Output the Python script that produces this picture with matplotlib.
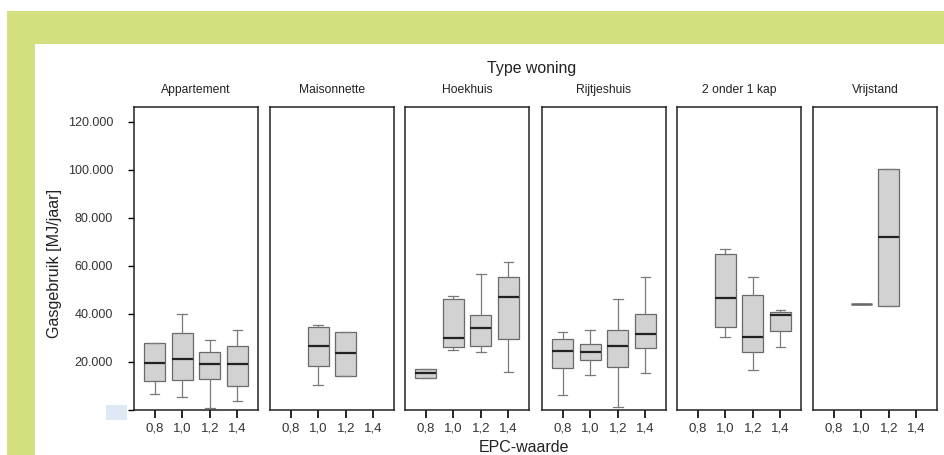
import matplotlib
matplotlib.use("Agg")
import matplotlib.pyplot as plt
from matplotlib.patches import Rectangle

plt.rcParams['font.family'] = ['Liberation Sans', 'DejaVu Sans']

# Box plot statistics per housing type, for EPC 0.8 / 1.0 / 1.2 / 1.4 (None = no data)
epc = [0.8, 1.0, 1.2, 1.4]
epc_labels = ["0,8", "1,0", "1,2", "1,4"]
types = ["Appartement", "Maisonnette", "Hoekhuis", "Rijtjeshuis", "2 onder 1 kap", "Vrijstand"]

# (whislo, q1, med, q3, whishi)
appartement = [(6700, 12100, 19450, 27800, 27800),
               (5600, 12500, 21400, 31950, 40000),
               (1000, 13100, 19200, 24000, 29300),
               (3750, 10100, 19200, 26500, 33500)]
maisonnette = [None,
               (10300, 18300, 26500, 34400, 35600),
               (14300, 14300, 23600, 32600, 32600),
               None]
hoekhuis = [(13300, 13300, 15300, 16900, 16900),
            (24900, 26100, 30000, 46400, 47600),
            (24000, 26700, 34000, 39600, 56800),
            (16000, 29700, 46900, 55300, 61500)]
rijtjeshuis = [(6400, 17600, 24400, 29400, 32500),
               (14400, 20700, 24000, 27400, 33500),
               (1250, 18100, 26500, 33200, 46100),
               (15600, 26000, 31800, 40000, 55400)]
twee_onder_1_kap = [None,
                    (30300, 34400, 46700, 64900, 67100),
                    (16700, 24000, 30400, 48100, 55400),
                    (26100, 32900, 39600, 40700, 41500)]
vrijstand = [None,
             (44300, 44300, 44300, 44300, 44300),
             (43500, 43500, 72100, 100400, 100400),
             None]
all_stats = [appartement, maisonnette, hoekhuis, rijtjeshuis, twee_onder_1_kap, vrijstand]

yticks = [0, 20000, 40000, 60000, 80000, 100000, 120000]
ytick_labels = ["", "20.000", "40.000", "60.000", "80.000", "100.000", "120.000"]

W, H = 944, 455
fig = plt.figure(figsize=(W / 100, H / 100), dpi=100)
fig.patch.set_facecolor('white')

# green frame and white card
fig.patches.append(Rectangle((7 / W, 0), 1, (H - 11) / H, transform=fig.transFigure,
                             facecolor='#d3e07d', edgecolor='none', zorder=-3))
fig.patches.append(Rectangle((35 / W, 0), 1, (H - 44) / H, transform=fig.transFigure,
                             facecolor='white', edgecolor='none', zorder=-2))
fig.patches.append(Rectangle((106 / W, (H - 420) / H), 21 / W, 15 / H, transform=fig.transFigure,
                             facecolor='#dfe9f5', edgecolor='none', zorder=-1))

lefts = [134, 270, 405, 542, 677, 813]
width = 124
bottom, top = 410, 107

for i, (name, stats) in enumerate(zip(types, all_stats)):
    ax = fig.add_axes([lefts[i] / W, (H - bottom) / H, width / W, (bottom - top) / H])
    bxp_stats = []
    positions = []
    for x, s in zip(epc, stats):
        if s is None:
            continue
        lo, q1, med, q3, hi = s
        bxp_stats.append(dict(whislo=lo, q1=q1, med=med, q3=q3, whishi=hi, fliers=[]))
        positions.append(x)
    parts = ax.bxp(bxp_stats, positions=positions, widths=0.15, patch_artist=True,
                   showfliers=False, manage_ticks=False,
                   boxprops=dict(facecolor='#d2d2d2', edgecolor='#6a6a6a', linewidth=0.9),
                   medianprops=dict(color='#222222', linewidth=1.6),
                   whiskerprops=dict(color='#7a7a7a', linewidth=0.9),
                   capprops=dict(color='#7a7a7a', linewidth=0.9),
                   capwidths=0.07)
    # a box with a single value is only a grey stripe
    for st, med_line in zip(bxp_stats, parts['medians']):
        if st['q1'] == st['q3']:
            med_line.set_color('#6a6a6a')
            med_line.set_linewidth(1.8)
    ax.set_xlim(0.65, 1.55)
    ax.set_ylim(0, 126250)
    ax.set_xticks(epc)
    ax.set_xticklabels(epc_labels, fontsize=9.5, color='#333333')
    ax.tick_params(axis='x', direction='out', length=6, width=1.2, pad=3)
    for sp in ax.spines.values():
        sp.set_linewidth(1.1)
        sp.set_color('#222222')
    if i == 0:
        ax.set_yticks(yticks)
        ax.set_yticklabels(ytick_labels, fontsize=9, color='#333333')
        ax.tick_params(axis='y', direction='out', length=4, width=1.0, pad=11)
    else:
        ax.set_yticks([])
    ax.set_title(name, fontsize=8.7, pad=10, color='#222222')

fig.text(532 / W, 1 - 68 / H, "Type woning", ha='center', va='center', fontsize=11.4, color='#222222')
fig.text(524 / W, 1 - 447 / H, "EPC-waarde", ha='center', va='center', fontsize=11.5, color='#222222')
fig.text(55 / W, 1 - 263 / H, "Gasgebruik [MJ/jaar]", ha='center', va='center', rotation=90,
         fontsize=11.6, color='#222222')

fig.savefig("out.png", dpi=100, facecolor=fig.get_facecolor())
